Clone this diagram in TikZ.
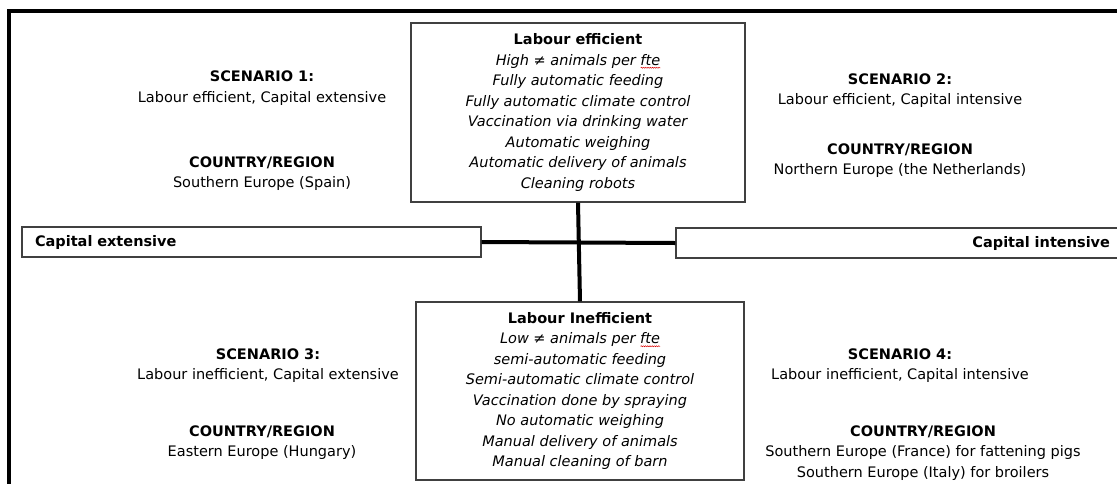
\documentclass[tikz,border=0pt]{standalone}
\usepackage{fontspec}
\setmainfont{DejaVu Sans}
\usetikzlibrary{decorations.pathmorphing}
\newsavebox\wvbox
\newcommand\wavyword[1]{\sbox\wvbox{#1}\rlap{\tikz[baseline=0pt]\draw[red!85!black,line width=0.5pt,decorate,decoration={snake,amplitude=0.5pt,segment length=2.2pt}] (0pt,-2.5pt) -- (\wd\wvbox,-2.5pt);}\usebox\wvbox}
\tikzset{
  box/.style={draw=black!75, line width=1.1pt, fill=white, inner sep=0pt, align=center},
  txt/.style={align=center, inner sep=0pt},
  link/.style={line width=4pt, draw=black},
  frame/.style={line width=3.5pt, draw=black},
}
\begin{document}
\begin{tikzpicture}[x=1pt,y=-1pt,every node/.style={font=\fontsize{14.5}{20.5}\selectfont}]
\useasboundingbox (0,0) rectangle (1117,483);
\fill[white] (0,0) rectangle (1117,483);
\draw[frame] (9,490) -- (9,11) -- (1125,11);

\node[box, minimum width=334pt, minimum height=179pt] (top) at (578,112.5) {%
\textbf{Labour efficient}\\
\textit{High ≠ animals per \wavyword{fte}}\\
\textit{Fully automatic feeding}\\
\textit{Fully automatic climate control}\\
\textit{Vaccination via drinking water}\\
\textit{Automatic weighing}\\
\textit{Automatic delivery of animals}\\
\textit{Cleaning robots}};

\node[box, minimum width=328pt, minimum height=178pt] (bot) at (580,391) {%
\textbf{Labour Inefficient}\\
\textit{Low ≠ animals per \wavyword{fte}}\\
\textit{semi-automatic feeding}\\
\textit{Semi-automatic climate control}\\
\textit{Vaccination done by spraying}\\
\textit{No automatic weighing}\\
\textit{Manual delivery of animals}\\
\textit{Manual cleaning of barn}};

\node[box, minimum width=459pt, minimum height=30pt, text width=433pt, align=left] (capext) at (251.5,242) {\textbf{Capital extensive}};
\node[box, minimum width=449pt, minimum height=30pt, text width=419pt, align=right] (capint) at (900.5,243) {\textbf{Capital intensive}};

\draw[link] (top.south) -- (bot.north);
\draw[link] (capext.east) -- (capint.west);

\node[txt] (s1) at (262,88) {\textbf{SCENARIO 1:}\\Labour efficient, Capital extensive};
\node[txt] (c1) at (262,173.5) {\textbf{COUNTRY/REGION}\\Southern Europe (Spain)};
\node[txt] (s2) at (900,90.5) {\textbf{SCENARIO 2:}\\Labour efficient, Capital intensive};
\node[txt] (c2) at (900,160.5) {\textbf{COUNTRY/REGION}\\Northern Europe (the Netherlands)};
\node[txt] (s3) at (268,365.5) {\textbf{SCENARIO 3:}\\Labour inefficient, Capital extensive};
\node[txt] (c3) at (262,442.5) {\textbf{COUNTRY/REGION}\\Eastern Europe (Hungary)};
\node[txt] (s4) at (900,365.5) {\textbf{SCENARIO 4:}\\Labour inefficient, Capital intensive};
\node[txt] (c4) at (923,453) {\textbf{COUNTRY/REGION}\\Southern Europe (France) for fattening pigs\\Southern Europe (Italy) for broilers};
\end{tikzpicture}
\end{document}
